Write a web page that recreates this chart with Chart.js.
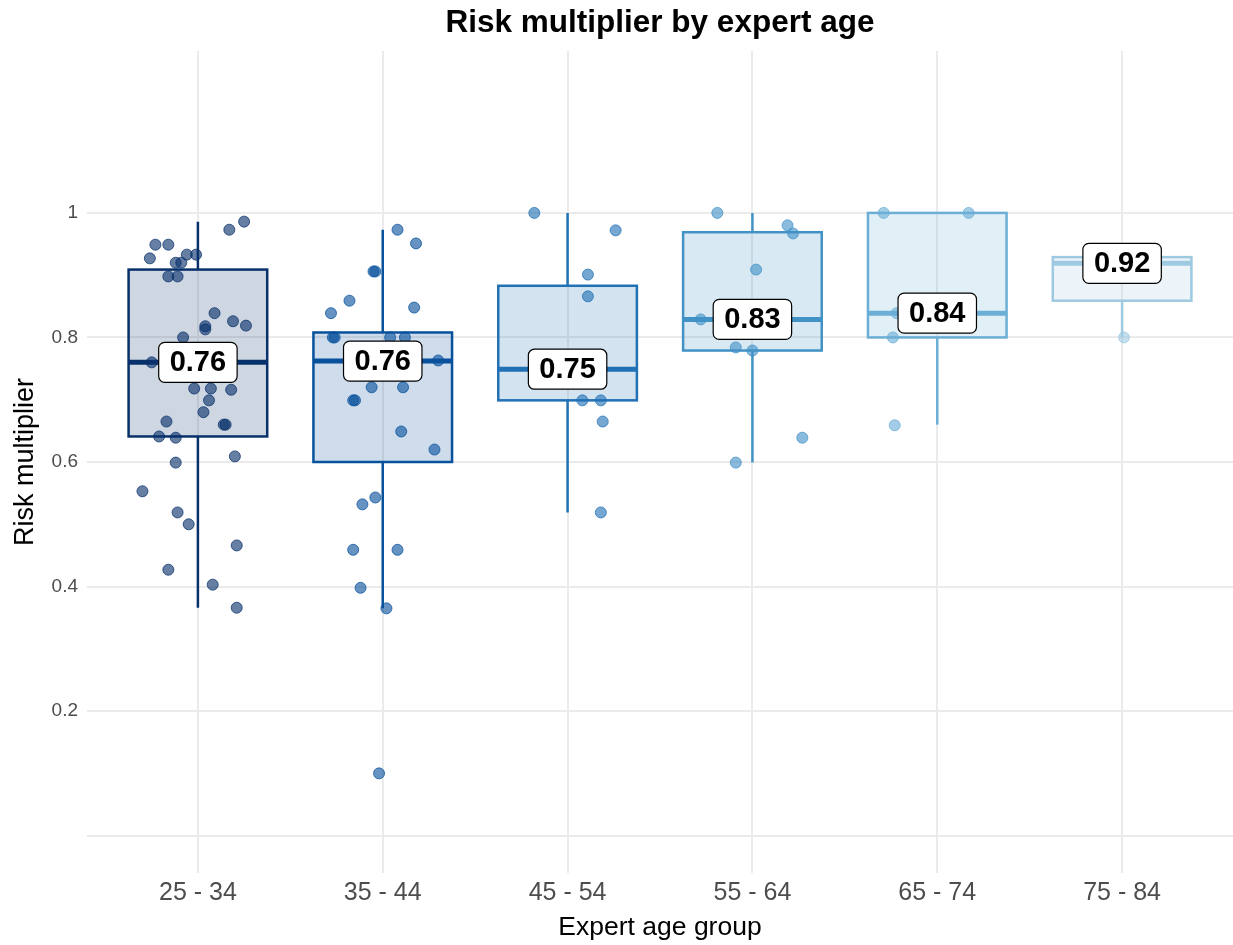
<!DOCTYPE html>
<html lang="en">
<head>
<meta charset="UTF-8">
<title>Risk multiplier by expert age</title>
<script src="https://cdn.jsdelivr.net/npm/chart.js@4.4.1/dist/chart.umd.min.js"></script>
<style>
  html, body { margin: 0; padding: 0; background: #fff; overflow: hidden; }
  #wrap { position: relative; width: 1233px; height: 945px; }
</style>
</head>
<body>
<div id="wrap"><canvas id="chart"></canvas></div>

<script>
// ---- data ----
const chartTitle = 'Risk multiplier by expert age';
const categories = ['25 - 34', '35 - 44', '45 - 54', '55 - 64', '65 - 74', '75 - 84'];
const groupColors = ['#08306b', '#08519c', '#2171b5', '#4292c6', '#6baed6', '#9ecae1'];

// box statistics per age group
const q1 = [0.641, 0.600, 0.699, 0.779, 0.800, 0.859];
const medians = [0.760, 0.762, 0.749, 0.829, 0.839, 0.919];
const q3 = [0.909, 0.808, 0.883, 0.969, 1.000, 0.929];
const whiskerLow = [0.366, 0.365, 0.519, 0.599, 0.660, 0.800];
const whiskerHigh = [0.986, 0.973, 1.000, 1.000, 1.000, 0.929];

// jittered observations: values and horizontal jitter (category units)
const pointValues = [
  [0.986, 0.973, 0.949, 0.949, 0.927, 0.933, 0.933, 0.920, 0.920, 0.898, 0.898, 0.839, 0.818, 0.813, 0.826,
   0.819, 0.800, 0.760, 0.718, 0.718, 0.716, 0.699, 0.680, 0.665, 0.660, 0.660, 0.641, 0.639, 0.609, 0.599,
   0.553, 0.519, 0.500, 0.466, 0.427, 0.403, 0.366],
  [0.973, 0.951, 0.906, 0.906, 0.859, 0.839, 0.848, 0.800, 0.800, 0.800, 0.800, 0.763, 0.720, 0.720, 0.699,
   0.699, 0.649, 0.620, 0.543, 0.532, 0.459, 0.459, 0.398, 0.365, 0.100],
  [1.000, 0.972, 0.901, 0.866, 0.699, 0.699, 0.665, 0.519],
  [1.000, 0.980, 0.967, 0.909, 0.829, 0.784, 0.779, 0.639, 0.599],
  [1.000, 1.000, 0.839, 0.800, 0.659],
  [0.800]
];
const pointJitter = [
  [0.25, 0.17, -0.23, -0.16, -0.26, -0.06, -0.01, -0.12, -0.09, -0.16, -0.11, 0.09, 0.04, 0.04, 0.19,
   0.26, -0.08, -0.25, -0.02, 0.07, 0.18, 0.06, 0.03, -0.17, 0.15, 0.14, -0.21, -0.12, 0.20, -0.12,
   -0.30, -0.11, -0.05, 0.21, -0.16, 0.08, 0.21],
  [0.08, 0.18, -0.05, -0.04, -0.18, -0.28, 0.17, -0.27, -0.26, 0.04, 0.12, 0.30, -0.06, 0.11, -0.16,
   -0.15, 0.10, 0.28, -0.04, -0.11, -0.16, 0.08, -0.12, 0.02, -0.02],
  [-0.18, 0.26, 0.11, 0.11, 0.08, 0.18, 0.19, 0.18],
  [-0.19, 0.19, 0.22, 0.02, -0.28, -0.09, 0.00, 0.27, -0.09],
  [-0.29, 0.17, -0.22, -0.24, -0.23],
  [0.01]
];

const yTicks = [0, 0.2, 0.4, 0.6, 0.8, 1];
const yTickLabels = ['', '0.2', '0.4', '0.6', '0.8', '1'];

const FONT = '"Liberation Sans", Arial, Helvetica, sans-serif';

function hexA(hex, a) {
  const n = parseInt(hex.slice(1), 16);
  return 'rgba(' + (n >> 16) + ',' + ((n >> 8) & 255) + ',' + (n & 255) + ',' + a + ')';
}

// boxes, whiskers and medians drawn under the points, labels + title on top
const boxPlugin = {
  id: 'boxes',
  beforeDatasetsDraw(chart) {
    const ctx = chart.ctx, xs = chart.scales.x, ys = chart.scales.y;
    ctx.save();
    categories.forEach((c, i) => {
      const col = groupColors[i];
      const xl = xs.getPixelForValue(i - 0.375), xr = xs.getPixelForValue(i + 0.375);
      const xc = xs.getPixelForValue(i);
      const yq1 = ys.getPixelForValue(q1[i]), yq3 = ys.getPixelForValue(q3[i]);
      ctx.strokeStyle = col;
      ctx.lineWidth = 2.5;
      ctx.beginPath();
      ctx.moveTo(xc, yq3); ctx.lineTo(xc, ys.getPixelForValue(whiskerHigh[i]));
      ctx.moveTo(xc, yq1); ctx.lineTo(xc, ys.getPixelForValue(whiskerLow[i]));
      ctx.stroke();
      ctx.fillStyle = hexA(col, 0.2);
      ctx.fillRect(xl, yq3, xr - xl, yq1 - yq3);
      ctx.strokeRect(xl, yq3, xr - xl, yq1 - yq3);
      ctx.lineWidth = 5;
      const ym = ys.getPixelForValue(medians[i]);
      ctx.beginPath();
      ctx.moveTo(xl, ym); ctx.lineTo(xr, ym);
      ctx.stroke();
    });
    ctx.restore();
  },
  afterDatasetsDraw(chart) {
    const ctx = chart.ctx, xs = chart.scales.x, ys = chart.scales.y;
    ctx.save();
    ctx.font = 'bold 29px ' + FONT;
    ctx.textAlign = 'center';
    ctx.textBaseline = 'middle';
    medians.forEach((m, i) => {
      const txt = m.toFixed(2);
      const x = xs.getPixelForValue(i), y = ys.getPixelForValue(m);
      const w = ctx.measureText(txt).width + 22, h = 40;
      ctx.beginPath();
      ctx.roundRect(x - w / 2, y - h / 2, w, h, 6);
      ctx.fillStyle = '#ffffff';
      ctx.fill();
      ctx.lineWidth = 1.2;
      ctx.strokeStyle = '#000000';
      ctx.stroke();
      ctx.fillStyle = '#000000';
      ctx.fillText(txt, x, y + 1);
    });
    // title centred over the panel, like ggplot
    const area = chart.chartArea;
    ctx.font = 'bold 31.5px ' + FONT;
    ctx.fillText(chartTitle, (area.left + area.right) / 2, 23);
    ctx.restore();
  }
};

const datasets = categories.map((c, i) => ({
  label: c,
  data: pointValues[i].map((v, k) => ({ x: i + pointJitter[i][k], y: v })),
  backgroundColor: hexA(groupColors[i], 0.62),
  borderColor: hexA(groupColors[i], 0.75),
  borderWidth: 1,
  pointRadius: 5.5,
  pointHoverRadius: 5.5
}));

let ctx = document.getElementById('chart');
var chart = new Chart(ctx, {
  type: 'scatter',
  data: { datasets: datasets },
  options: {
    responsive: true,
    maintainAspectRatio: false,
    animation: false,
    layout: { padding: { top: 51, left: 0, right: 0, bottom: 0 }, autoPadding: false },
    plugins: {
      legend: { display: false },
      tooltip: { enabled: false },
      title: { display: false }
    },
    scales: {
      x: {
        type: 'linear',
        min: -0.6,
        max: 5.6,
        afterBuildTicks: (axis) => { axis.ticks = categories.map((c, i) => ({ value: i })); },
        afterFit: (axis) => { axis.height = 72; axis.paddingLeft = 0; axis.paddingRight = 0; },
        ticks: {
          callback: (v, i) => categories[i],
          color: '#4d4d4d',
          font: { family: FONT, size: 25 },
          padding: 5,
          maxRotation: 0
        },
        grid: { color: '#ebebeb', lineWidth: 2, drawTicks: false },
        border: { display: false },
        title: {
          display: true,
          text: 'Expert age group',
          color: '#000',
          font: { family: FONT, size: 26.5 },
          padding: { top: 0, bottom: 1 }
        }
      },
      y: {
        min: -0.06,
        max: 1.26,
        afterBuildTicks: (axis) => { axis.ticks = yTicks.map(v => ({ value: v })); },
        afterFit: (axis) => { axis.width = 87; axis.paddingTop = 0; axis.paddingBottom = 0; },
        ticks: {
          callback: (v, i) => yTickLabels[i],
          color: '#4d4d4d',
          font: { family: FONT, size: 19 },
          padding: 9
        },
        grid: { color: '#ebebeb', lineWidth: 2, drawTicks: false },
        border: { display: false },
        title: {
          display: true,
          text: 'Risk multiplier',
          color: '#000',
          font: { family: FONT, size: 27 },
          padding: { top: 9, bottom: 0 }
        }
      }
    }
  },
  plugins: [boxPlugin]
});
</script>
</body>
</html>
